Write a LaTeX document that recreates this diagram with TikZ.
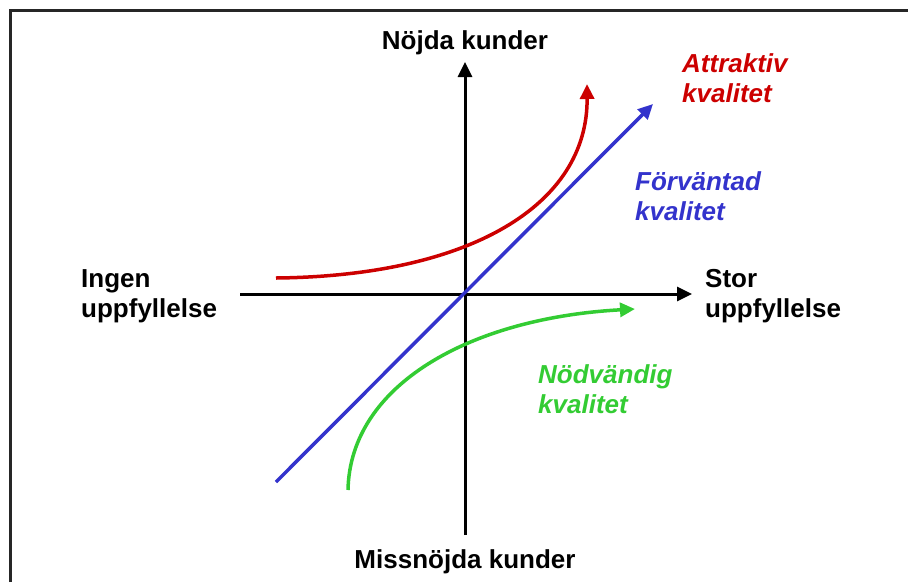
\documentclass[tikz,border=0pt]{standalone}
\usepackage{fontspec}
\setmainfont{Liberation Sans}
\usetikzlibrary{arrows.meta,positioning}
\definecolor{attrred}{RGB}{204,0,0}
\definecolor{forvblue}{RGB}{51,51,204}
\definecolor{nodvgreen}{RGB}{51,204,51}
\begin{document}
\begin{tikzpicture}[x=1pt,y=-1pt]
\tikzset{axis/.style={line width=3pt,-{Triangle[length=15pt,width=14pt]}},
  curve/.style={line width=3.5pt,-{Triangle[length=15pt,width=14pt]}},
  lbl/.style={inner sep=0pt,align=left,font=\fontsize{26}{30}\selectfont\bfseries},
  qlbl/.style={lbl,font=\fontsize{26}{30}\selectfont\bfseries\itshape}}
\useasboundingbox (0,0) rectangle (908,582);
% frame
\draw[line width=3pt,black!85] (10.5,582) -- (10.5,10.5) -- (908,10.5);
% axes
\coordinate (xl) at (240,294);
\coordinate (xr) at (692,294);
\coordinate (yb) at (465,535);
\coordinate (yt) at (465,62);
\draw[axis] (xl) -- (xr);
\draw[axis] (yb) -- (yt);
% quality curves
\coordinate (fa) at (276,482);
\coordinate (fb) at (653,104);
\coordinate (ra) at (276,278);
\coordinate (rb) at (587,84);
\coordinate (na) at (348,490);
\coordinate (nb) at (635,309);
\draw[curve,forvblue] (fa) -- (fb);
\draw[curve,attrred] (ra) .. controls (470,276) and (588,205) .. (rb);
\draw[curve,nodvgreen] (na) .. controls (350,385) and (470,318) .. (nb);
% labels (base = last line)
\node[lbl,anchor=base] (nojd) at (465,49) {Nöjda kunder};
\node[lbl,anchor=base] (missn) at (465,568) {Missnöjda kunder};
\node[lbl,anchor=base west] (ingen) at (81,317) {Ingen\\uppfyllelse};
\node[lbl,anchor=base west] (stor) at (705,317) {Stor\\uppfyllelse};
\node[qlbl,attrred,anchor=base west] (attr) at (682,102) {Attraktiv\\kvalitet};
\node[qlbl,forvblue,anchor=base west] (forv) at (635,220) {Förväntad\\kvalitet};
\node[qlbl,nodvgreen,anchor=base west] (nodv) at (538,413) {Nödvändig\\kvalitet};
\end{tikzpicture}
\end{document}
